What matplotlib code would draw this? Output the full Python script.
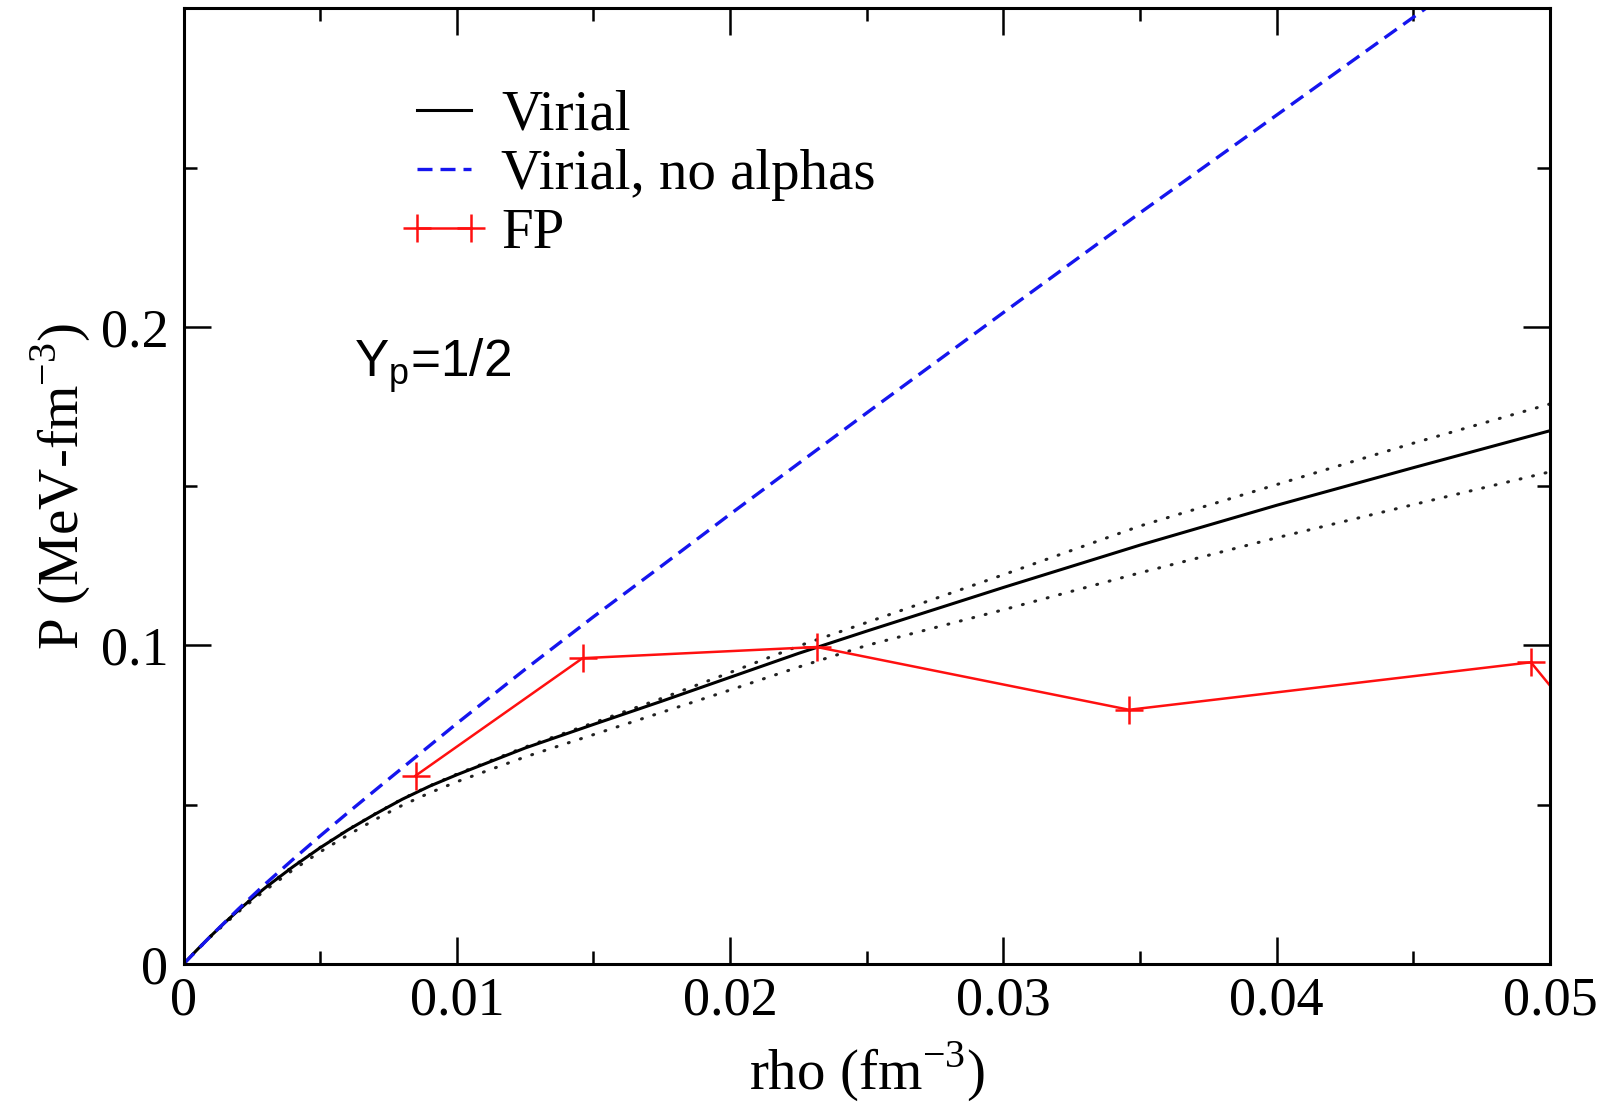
import numpy as np
import matplotlib
matplotlib.use("Agg")
import matplotlib.pyplot as plt
from matplotlib.ticker import FixedLocator, MultipleLocator

plt.rcParams['font.family'] = ['Liberation Serif', 'DejaVu Serif']
plt.rcParams['mathtext.fontset'] = 'custom'
plt.rcParams['mathtext.rm'] = 'Liberation Serif'

# virial EOS, Yp = 1/2 (P in MeV fm^-3 vs baryon density)
rho_vir = [0, 0.0005, 0.001, 0.0015, 0.002, 0.0025, 0.003, 0.004, 0.005, 0.006, 0.007,
           0.008, 0.009, 0.010, 0.0125, 0.015, 0.0175, 0.020, 0.0225, 0.025, 0.030,
           0.035, 0.040, 0.045, 0.050]
p_vir = [0, 0.0045, 0.0088, 0.0129, 0.0168, 0.0205, 0.0240, 0.0305, 0.0365, 0.0420, 0.0470,
         0.0517, 0.0558, 0.0594, 0.0678, 0.0752, 0.0825, 0.0900, 0.0975, 0.1045, 0.1182,
         0.1315, 0.1440, 0.1558, 0.1674]
# error band of the virial result
p_vir_hi = [0, 0.0045, 0.0088, 0.0129, 0.0168, 0.0205, 0.0241, 0.0306, 0.0366, 0.0421, 0.0471,
            0.0518, 0.0559, 0.0596, 0.0681, 0.0757, 0.0834, 0.0915, 0.0998, 0.1072, 0.1222,
            0.1375, 0.1505, 0.1635, 0.1758]
p_vir_lo = [0, 0.0044, 0.0086, 0.0125, 0.0163, 0.0198, 0.0232, 0.0295, 0.0352, 0.0404, 0.0453,
            0.0498, 0.0537, 0.0572, 0.0650, 0.0720, 0.0790, 0.0860, 0.0932, 0.1000, 0.1112,
            0.1228, 0.1338, 0.1442, 0.1545]

# virial without alpha particles
rho_noa = [0, 0.001, 0.002, 0.003, 0.004, 0.005, 0.006, 0.0075, 0.010, 0.0125, 0.015,
           0.0175, 0.020, 0.025, 0.030, 0.035, 0.040, 0.045, 0.0475]
p_noa = [0, 0.0088, 0.0172, 0.0252, 0.0328, 0.0402, 0.0474, 0.0580, 0.0755, 0.0925, 0.1090,
         0.1250, 0.1412, 0.1730, 0.2045, 0.2358, 0.2665, 0.2972, 0.3125]

# FP points
rho_fp = [0.00849, 0.0146, 0.02317, 0.0346, 0.0493, 0.0550]
p_fp = [0.0591, 0.0960, 0.0995, 0.0798, 0.0947, 0.0350]

fig = plt.figure(figsize=(16.17, 11.06), dpi=100)
ax = fig.add_axes([0.1135, 0.1284, 0.8451, 0.8641])

for band in (p_vir_hi, p_vir_lo):
    ax.plot(rho_vir, band, color='#222222', lw=2.2, ls=(0, (0.3, 3.9)),
            dash_capstyle='round')
ax.plot(rho_vir, p_vir, color='black', lw=2.2, label='Virial')
ax.plot(rho_noa, p_noa, color='#1515ee', lw=2.4, ls=(0, (4.5, 2.4)), label='Virial, no alphas')
ax.plot(rho_fp, p_fp, color='#ff1010', lw=1.8, marker='+', ms=20, mew=1.8, label='FP')

ax.set_xlim(0, 0.05)
ax.set_ylim(0, 0.3)

ax.xaxis.set_major_locator(FixedLocator([0, 0.01, 0.02, 0.03, 0.04, 0.05]))
ax.set_xticklabels(['0', '0.01', '0.02', '0.03', '0.04', '0.05'])
ax.xaxis.set_minor_locator(MultipleLocator(0.005))
ax.yaxis.set_major_locator(FixedLocator([0, 0.1, 0.2, 0.3]))
ax.set_yticklabels(['0', '0.1', '0.2', ''])
ax.yaxis.set_minor_locator(MultipleLocator(0.05))

ax.tick_params(which='both', direction='in', top=True, right=True, width=1.8, labelsize=39)
ax.tick_params(which='major', length=19.5)
ax.tick_params(which='minor', length=9.5)
ax.tick_params(axis='x', pad=9)
ax.tick_params(axis='y', pad=11)
for s in ax.spines.values():
    s.set_linewidth(2.2)

ax.set_xlabel(r'rho (fm$^{-3}$)', fontsize=41, labelpad=9)
ax.set_ylabel(r'P (MeV-fm$^{-3}$)', fontsize=41, labelpad=6)

ax.legend(loc='upper left', bbox_to_anchor=(0.1585, 0.915), frameon=False, fontsize=41,
          borderpad=0, borderaxespad=0, handlelength=1.55, handletextpad=0.23,
          labelspacing=0.13, numpoints=2)

ax.text(0.1247, 0.6147, r'Y$_\mathregular{p}$=1/2', transform=ax.transAxes,
        fontsize=37, family=['Liberation Sans', 'DejaVu Sans'], va='baseline', ha='left')

fig.savefig('out.png', dpi=100)
